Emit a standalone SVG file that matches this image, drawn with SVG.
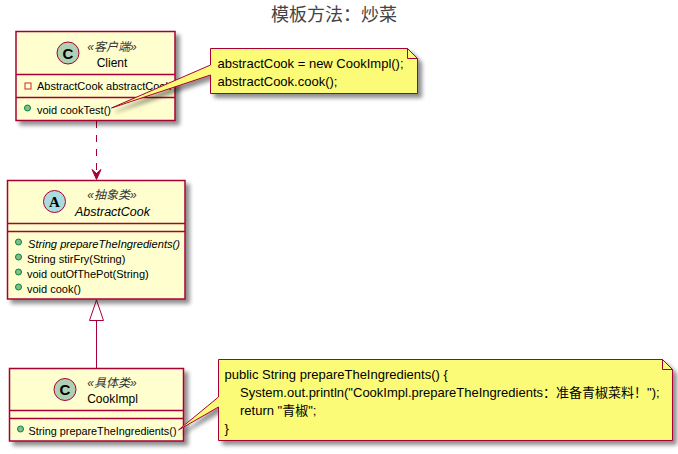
<svg xmlns="http://www.w3.org/2000/svg" width="678" height="454" viewBox="0 0 678 454">
<style>
text{font-family:"Liberation Sans","Noto Sans CJK SC",sans-serif;font-size:11px;fill:#000}
.name{font-size:12px;text-anchor:middle}
.st{font-size:12px;font-style:italic;text-anchor:middle;fill:#333}
.it{font-style:italic}
.box{fill:#FEFECE;stroke:#A80036;stroke-width:1.5}
.ln{stroke:#A80036;stroke-width:1.5;fill:none}
.cn{stroke:#A80036;stroke-width:1;fill:none}
.note{fill:#FBFB77;stroke:#A80036;stroke-width:1}
.circ{stroke:#A80036;stroke-width:1}
.g{fill:#84BE84;stroke:#038048;stroke-width:1}
.nt{font-size:13px}
.ltr{font-family:"Liberation Sans",sans-serif;font-size:15px;font-weight:bold;text-anchor:middle}
</style>
<defs>
<filter id="sh" x="-10%" y="-10%" width="125%" height="130%">
<feGaussianBlur in="SourceAlpha" stdDeviation="2"/>
<feOffset dx="4" dy="4"/>
<feComponentTransfer><feFuncA type="linear" slope="0.45"/></feComponentTransfer>
<feMerge><feMergeNode/><feMergeNode in="SourceGraphic"/></feMerge>
</filter>
</defs>
<rect width="678" height="454" fill="#fff"/>
<text x="334" y="20.500" text-anchor="middle" style="font-size:18px;fill:#444">模板方法：炒菜</text>
<g id="connectors">
<path class="cn" d="M96.500 121V170" stroke-dasharray="7 7"/>
<path class="cn" d="M96.500 179.500L92 169.500L96.500 173.500L101 169.500Z" style="fill:#A80036"/>
<path class="cn" d="M96.500 321V368"/>
<path class="cn" d="M96.500 300L89.500 320.500H103.500Z" style="fill:#fff"/>
</g>
<g id="Client">
<rect class="box" x="16" y="31.500" width="159" height="89" filter="url(#sh)"/>
<path class="ln" d="M16 74.500H175M16 97.500H175"/>
<circle class="circ" cx="68" cy="53" r="11" fill="#ADD1B2"/>
<text class="ltr" x="68" y="58.500">C</text>
<text class="st" x="112" y="51">«客户端»</text>
<text class="name" x="112" y="67">Client</text>
<rect x="25" y="83" width="6" height="6" fill="none" stroke="#C82930" stroke-width="1"/>
<text x="37" y="90">AbstractCook abstractCook</text>
<circle class="g" cx="27.500" cy="108" r="3"/>
<text x="37" y="114">void cookTest()</text>
</g>
<g id="AbstractCook">
<rect class="box" x="7.500" y="180.500" width="177.500" height="118.500" filter="url(#sh)"/>
<path class="ln" d="M7.500 223.500H185M7.500 231.500H185"/>
<circle class="circ" cx="54.500" cy="201.500" r="11" fill="#A9DCDF"/>
<text class="ltr" x="54.500" y="207" style="font-family:'Liberation Serif',serif">A</text>
<text class="st" x="112" y="199">«抽象类»</text>
<text class="name it" x="112.500" y="216" style="font-size:12.500px">AbstractCook</text>
<circle class="g" cx="18.500" cy="242" r="3"/>
<text class="it" x="28" y="248" textLength="152" lengthAdjust="spacingAndGlyphs">String prepareTheIngredients()</text>
<circle class="g" cx="18.500" cy="257" r="3"/>
<text x="27" y="263">String stirFry(String)</text>
<circle class="g" cx="18.500" cy="272" r="3"/>
<text x="27" y="278">void outOfThePot(String)</text>
<circle class="g" cx="18.500" cy="287" r="3"/>
<text x="27" y="293">void cook()</text>
</g>
<g id="CookImpl">
<rect class="box" x="9.500" y="368.500" width="174" height="72.500" filter="url(#sh)"/>
<path class="ln" d="M9.500 410.500H183.500M9.500 418.500H183.500"/>
<circle class="circ" cx="65" cy="389.500" r="11" fill="#ADD1B2"/>
<text class="ltr" x="65" y="395">C</text>
<text class="st" x="112" y="387">«具体类»</text>
<text class="name" x="112.500" y="403">CookImpl</text>
<circle class="g" cx="20.500" cy="429" r="3"/>
<text x="28.500" y="435" textLength="148" lengthAdjust="spacingAndGlyphs">String prepareTheIngredients()</text>
</g>
<g id="note1">
<path class="note" filter="url(#sh)" d="M210.500 48.500H407.500L417.500 58.500V93.500H210.500V75L111.500 108L210.500 65Z"/>
<path class="note" d="M407.500 48.500V58.500H417.500Z"/>
<text class="nt" x="217.500" y="68">abstractCook = new CookImpl();</text>
<text class="nt" x="217.500" y="86">abstractCook.cook();</text>
</g>
<g id="note2">
<path class="note" filter="url(#sh)" d="M218.500 359.500H662.500L672.500 369.500V440.500H218.500V407L178.500 430L218.500 397Z"/>
<path class="note" d="M662.500 359.500V369.500H672.500Z"/>
<text class="nt" x="224.500" y="379">public String prepareTheIngredients() {</text>
<text class="nt" x="240" y="397">System.out.println("CookImpl.prepareTheIngredients：准备青椒菜料！");</text>
<text class="nt" x="240" y="415">return "青椒";</text>
<text class="nt" x="224.500" y="433">}</text>
</g>
</svg>
